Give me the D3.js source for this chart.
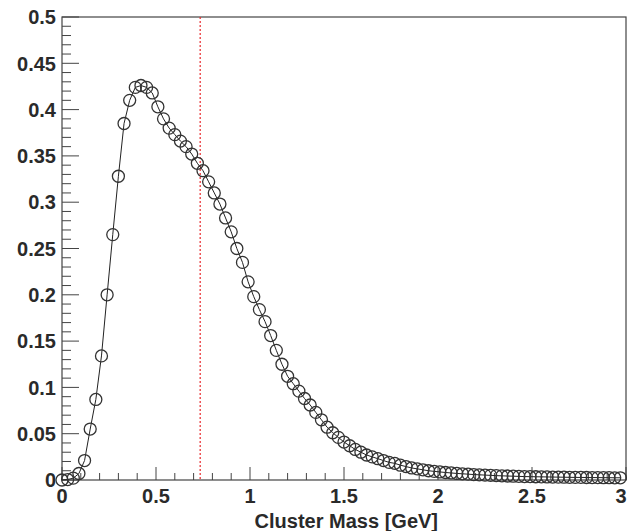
<!DOCTYPE html>
<html>
<head>
<meta charset="utf-8">
<script src="https://cdn.jsdelivr.net/npm/d3@7"></script>
<style>
  body { margin: 0; background: #fff; }
  svg { display: block; }
  text { font-family: "Liberation Sans", Arial, sans-serif; font-weight: bold; fill: #2a2a2a; }
</style>
</head>
<body>
<div id="chart"></div>
<script>
// bin width of the histogram (GeV), points sit at i * binWidth
const binWidth = 0.03;

// normalised entries per bin
const counts = [
  0.0, 0.0005, 0.002, 0.007, 0.021, 0.055, 0.087, 0.134, 0.200, 0.265,
  0.328, 0.385, 0.410, 0.424, 0.426, 0.424, 0.418, 0.403, 0.390, 0.380,
  0.373, 0.366, 0.360, 0.352, 0.342, 0.334, 0.322, 0.310, 0.298, 0.283,
  0.268, 0.250, 0.235, 0.214, 0.198, 0.184, 0.171, 0.156, 0.140, 0.125,
  0.112, 0.104, 0.096, 0.088, 0.081, 0.073, 0.065, 0.057, 0.051, 0.046,
  0.041, 0.037, 0.033, 0.030, 0.027, 0.025, 0.023, 0.021, 0.019, 0.018,
  0.016, 0.0145, 0.013, 0.012, 0.011, 0.010, 0.0093, 0.0087, 0.0081, 0.0076,
  0.0071, 0.0067, 0.0063, 0.0059, 0.0056, 0.0053, 0.0050, 0.0047, 0.0045, 0.0043,
  0.0041, 0.0039, 0.0037, 0.0036, 0.0035, 0.0034, 0.0033, 0.0032, 0.0031, 0.0030,
  0.0029, 0.0028, 0.0028, 0.0027, 0.0026, 0.0026, 0.0025, 0.0025, 0.0024, 0.0024
];

const xTicks = [0, 0.5, 1, 1.5, 2, 2.5, 3];
const yTicks = [0, 0.05, 0.1, 0.15, 0.2, 0.25, 0.3, 0.35, 0.4, 0.45, 0.5];
const cutMass = 0.735;
const xTitle = "Cluster Mass [GeV]";

const width = 628, height = 531;
const margin = { top: 17, right: 2, bottom: 51, left: 62 };

const svg = d3.select("#chart")
  .append("svg")
  .attr("width", width)
  .attr("height", height);

const x = d3.scaleLinear()
  .domain([0, 3])
  .range([margin.left, width - margin.right]);

const y = d3.scaleLinear()
  .domain([0, 0.5])
  .range([height - margin.bottom, margin.top]);

const data = counts.map((v, i) => ({ m: i * binWidth, v: v }));

// frame
svg.append("rect")
  .attr("x", x(0))
  .attr("y", y(0.5))
  .attr("width", x(3) - x(0))
  .attr("height", y(0) - y(0.5))
  .attr("fill", "none")
  .attr("stroke", "#444")
  .attr("stroke-width", 1.2);

// y axis, ticks pointing into the plot
const yMinor = d3.range(0, 0.5001, 0.01);
svg.append("g")
  .selectAll("line")
  .data(yMinor)
  .enter()
  .append("line")
  .attr("x1", x(0))
  .attr("x2", (d, i) => x(0) + (i % 5 === 0 ? 17 : 9))
  .attr("y1", d => y(d))
  .attr("y2", d => y(d))
  .attr("stroke", "#444")
  .attr("stroke-width", 1);

svg.append("g")
  .selectAll("text")
  .data(yTicks)
  .enter()
  .append("text")
  .attr("x", x(0) - 6)
  .attr("y", d => y(d))
  .attr("dy", "0.36em")
  .attr("text-anchor", "end")
  .style("font-size", "20px")
  .text(d => d3.format("~g")(d));

// x axis
const xMinor = d3.range(0, 3.0001, 0.1);
svg.append("g")
  .selectAll("line")
  .data(xMinor)
  .enter()
  .append("line")
  .attr("x1", d => x(d))
  .attr("x2", d => x(d))
  .attr("y1", y(0))
  .attr("y2", (d, i) => y(0) - (i % 5 === 0 ? 13 : 7))
  .attr("stroke", "#444")
  .attr("stroke-width", 1);

svg.append("g")
  .selectAll("text")
  .data(xTicks)
  .enter()
  .append("text")
  // last label would run off the right edge, pull it in
  .attr("x", d => d === 3 ? width - 7 : x(d))
  .attr("y", y(0) + 23)
  .attr("text-anchor", "middle")
  .style("font-size", "20px")
  .text(d => d3.format("~g")(d));

svg.append("text")
  .attr("x", 438)
  .attr("y", 528)
  .attr("text-anchor", "end")
  .style("font-size", "20px")
  .text(xTitle);

// cut line
svg.append("line")
  .attr("x1", x(cutMass))
  .attr("x2", x(cutMass))
  .attr("y1", y(0.5))
  .attr("y2", y(0))
  .attr("stroke", "#e8262a")
  .attr("stroke-width", 1.2)
  .attr("stroke-dasharray", "2,2");

// curve + markers
const plot = svg.append("g");

plot.append("path")
  .datum(data)
  .attr("fill", "none")
  .attr("stroke", "#222")
  .attr("stroke-width", 1)
  .attr("d", d3.line().x(d => x(d.m)).y(d => y(d.v)));

plot.selectAll("circle")
  .data(data)
  .enter()
  .append("circle")
  .attr("cx", d => x(d.m))
  .attr("cy", d => y(d.v))
  .attr("r", 6)
  .attr("fill", "none")
  .attr("stroke", "#333")
  .attr("stroke-width", 1.3);
</script>
</body>
</html>
